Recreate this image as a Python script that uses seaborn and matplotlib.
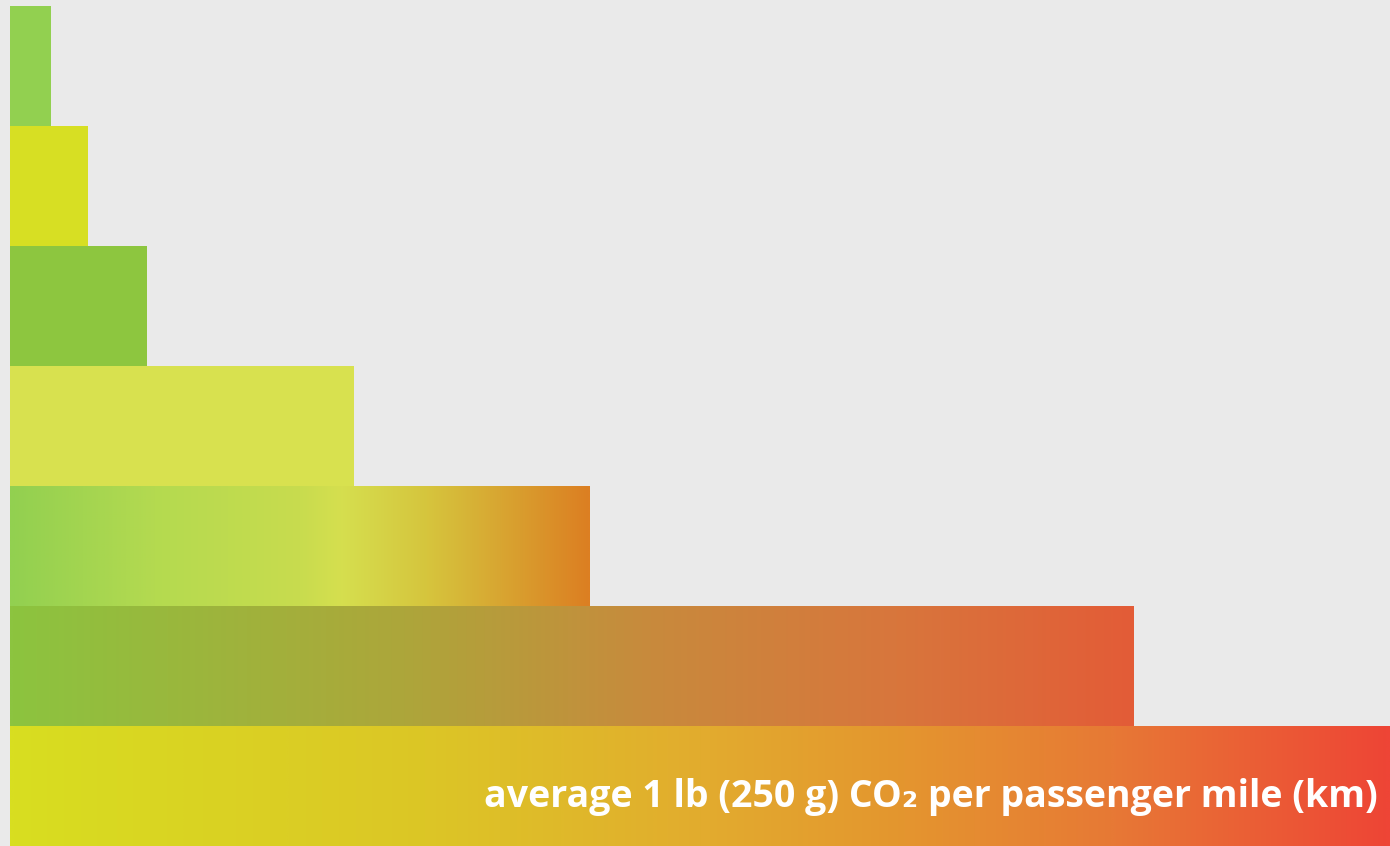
import numpy as np
import pandas as pd
import matplotlib
matplotlib.use("Agg")
import matplotlib.pyplot as plt
from matplotlib.colors import LinearSegmentedColormap
import seaborn as sns

# CO2 per passenger mile, relative to the 1 lb average
modes = ["m1", "m2", "m3", "m4", "m5", "m6", "m7"]
values = [0.0297, 0.0565, 0.0993, 0.249, 0.420, 0.814, 1.0]
base_colors = ["#92D050", "#D7DF23", "#8DC63F", "#D8E14F", "#D4DF4F", "#B0A53A", "#DCC426"]

# gradient fills for the larger bars: (bar index, [(position, colour), ...])
gradients = {
    4: [(0.0, "#92D050"), (0.25, "#B4DA50"), (0.5, "#C8DC4E"), (0.57, "#D5DF4F"),
        (0.72, "#D6C53D"), (0.81, "#D7AF35"), (1.0, "#DC7F22")],
    5: [(0.0, "#8CC43F"), (0.35, "#ADA63A"), (0.57, "#C88A3D"), (0.79, "#D8763C"),
        (1.0, "#E35C37")],
    6: [(0.0, "#D8DE20"), (0.3, "#DCC626"), (0.5, "#E2AC2E"), (0.65, "#E4952F"),
        (0.8, "#E77935"), (1.0, "#EE4536")],
}
label = "average 1 lb (250 g) CO\u2082 per passenger mile (km)"

bg = "#EAEAEA"
df = pd.DataFrame({"mode": modes, "value": values})

fig = plt.figure(figsize=(13.9, 8.46), dpi=100, facecolor=bg)
ax = fig.add_axes([0, 0, 1, 1])
ax.set_facecolor(bg)

sns.barplot(data=df, x="value", y="mode", orient="h", hue="mode",
            palette=base_colors, legend=False, width=1.0, saturation=1,
            linewidth=0, ax=ax)

for i, stops in gradients.items():
    patch = ax.patches[i]
    cmap = LinearSegmentedColormap.from_list(f"g{i}", stops)
    grad = np.linspace(0, 1, 512).reshape(1, -1)
    x0 = patch.get_x()
    w = patch.get_width()
    y0 = patch.get_y()
    h = patch.get_height()
    im = ax.imshow(grad, cmap=cmap, aspect="auto", extent=[x0, x0 + w, y0 + h, y0],
                   interpolation="bilinear", zorder=patch.get_zorder() + 0.1)
    im.set_clip_path(patch)

ax.set_xlim(-10 / 1380, 1.0)
ax.set_ylim(6.5, -0.55)

ax.text(0.991, 6 + 0.09, label, ha="right", va="center", color="white",
        fontsize=27, fontweight="bold", family=["Open Sans", "DejaVu Sans"], zorder=10)

ax.axis("off")
fig.savefig("out.png", dpi=100, facecolor=bg)
